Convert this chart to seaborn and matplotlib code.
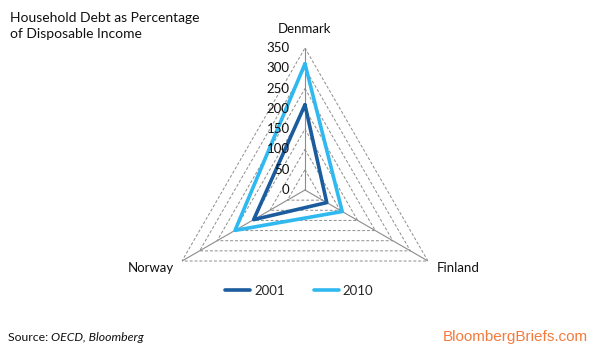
import numpy as np
import pandas as pd
import seaborn as sns
import matplotlib.pyplot as plt

# Data
countries = ['Denmark', 'Finland', 'Norway']
debt_2001 = [210, 62, 146]
debt_2010 = [311, 106, 199]
years = ['2001', '2010']
ring_levels = [0, 50, 100, 150, 200, 250, 300, 350]

colors = {'2001': '#1B5C9E', '2010': '#2FB9F0'}

sns.set_style('white')
plt.rcParams['font.family'] = ['Lato', 'DejaVu Sans']

angles = np.linspace(0, 2 * np.pi, len(countries), endpoint=False)
closed = np.append(angles, angles[0])

rows = []
for year, vals in zip(years, [debt_2001, debt_2010]):
    loop = list(vals) + [vals[0]]
    for i, (t, v) in enumerate(zip(closed, loop)):
        rows.append({'year': year, 'theta': t, 'value': v, 'order': i})
df = pd.DataFrame(rows)

fig = plt.figure(figsize=(5.95, 3.52), dpi=100)
ax = fig.add_axes([0.2739, 0.0568, 0.4773, 0.8068], projection='polar')
ax.set_theta_offset(np.pi / 2)
ax.set_theta_direction(-1)
ax.set_ylim(0, 350)
ax.grid(False)
ax.spines['polar'].set_visible(False)
ax.set_xticks([])
ax.set_yticks([])
ax.patch.set_alpha(0)

# polygon rings
for r in ring_levels[1:]:
    ax.plot(closed, [r] * len(closed), color='#8c8c8c', lw=0.7,
            ls=(0, (3, 2)), zorder=1)
# spokes
for t in angles:
    ax.plot([t, t], [0, 350], color='#8c8c8c', lw=0.8, zorder=1)

sns.lineplot(data=df, x='theta', y='value', hue='year', palette=colors,
             sort=False, estimator=None, units='year', lw=2.6, ax=ax,
             legend=False, zorder=3)
ax.set_xlabel('')
ax.set_ylabel('')

# radial tick labels along the Denmark axis
for r in ring_levels:
    ax.annotate(str(r), xy=(0, r), xytext=(-11, 0), textcoords='offset points',
                ha='right', va='center', fontsize=9.5, color='#111111')

# category labels
label_offsets = {'Denmark': ((0, 14), 'center'),
                 'Finland': ((6, -5), 'left'),
                 'Norway': ((-6, -5), 'right')}
for name, t in zip(countries, angles):
    (dx, dy), ha = label_offsets[name]
    ax.annotate(name, xy=(t, 350), xytext=(dx, dy), textcoords='offset points',
                ha=ha, va='center', fontsize=9.5, color='#111111',
                annotation_clip=False)

# legend
handles = [plt.Line2D([], [], color=colors[y], lw=2.6) for y in years]
fig.legend(handles, years, loc='center', bbox_to_anchor=(0.503, 0.173),
           ncol=2, frameon=False, fontsize=9.5, handlelength=1.9,
           handletextpad=0.3, columnspacing=2.2)

fig.text(0.017, 0.965, 'Household Debt as Percentage\nof Disposable Income',
         ha='left', va='top', fontsize=10, linespacing=1.35, color='#111111')
fig.text(0.014, 0.03, 'Source: ', ha='left', va='baseline', fontsize=8.8,
         color='#111111')
fig.text(0.086, 0.03, 'OECD, Bloomberg', ha='left', va='baseline', fontsize=8.8,
         style='italic', color='#111111')
fig.text(0.988, 0.03, 'BloombergBriefs.com', ha='right', va='baseline',
         fontsize=11, color='#F47A3D', family=['Liberation Sans', 'DejaVu Sans'])

fig.savefig('out.png', dpi=100)
